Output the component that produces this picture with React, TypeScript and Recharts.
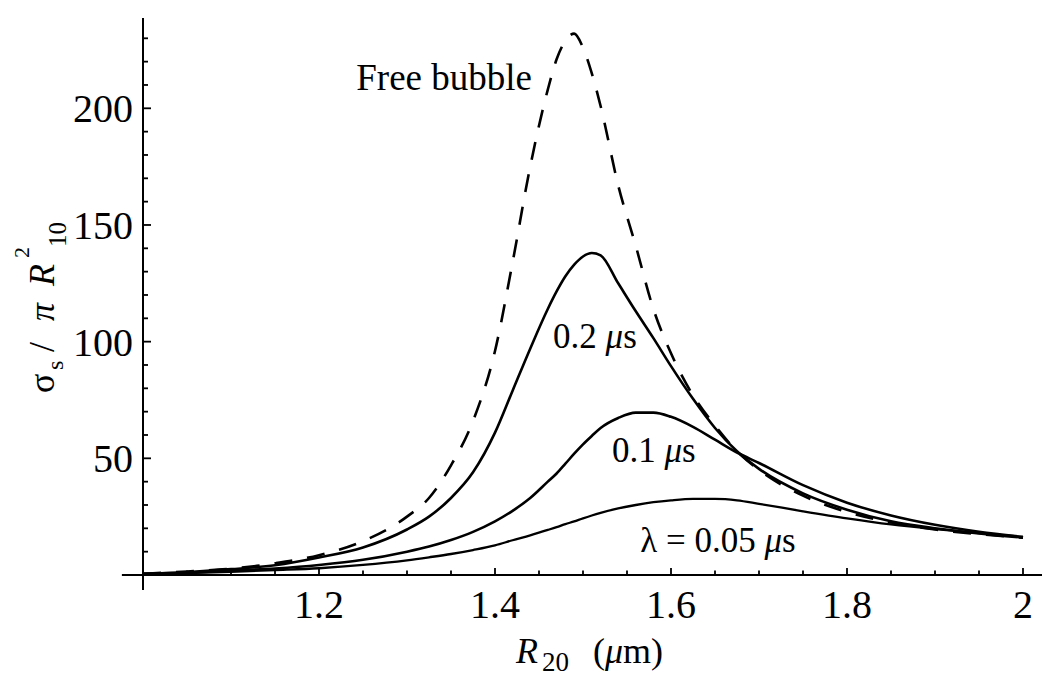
import React from 'react';
import { LineChart, Line, XAxis, YAxis, ReferenceLine, ReferenceDot } from 'recharts';

// R20 sample points (µm) and the scattering cross sections
const r20 = [1.0, 1.05, 1.1, 1.15, 1.2, 1.25, 1.3, 1.325, 1.35, 1.375, 1.4, 1.42, 1.44, 1.46, 1.47, 1.48, 1.49, 1.5, 1.51, 1.52, 1.54, 1.56, 1.58, 1.6, 1.625, 1.65, 1.675, 1.7, 1.75, 1.8, 1.85, 1.9, 1.95, 2.0];
const freeBubble = [0.5, 1.5, 2.7, 5, 8.5, 14.5, 25, 33, 47, 66, 96, 134, 175, 208, 221, 229, 232, 226, 215, 201, 167, 141, 114, 95, 77, 64, 53, 45, 34, 27, 22.5, 19.5, 17.5, 16];
const lambda02 = [0.5, 1.2, 2.5, 4.2, 7.5, 11.8, 19.5, 25, 33, 44, 61, 79, 97, 114, 121.5, 128, 133, 136.5, 138, 137, 125, 113, 101.5, 89.5, 75.5, 63, 53, 45.5, 35, 28, 23, 20, 17.8, 16];
const lambda01 = [0.5, 1.0, 1.8, 2.8, 4.3, 6.5, 10, 12.2, 15, 18.5, 23, 27.5, 33, 40, 43.5, 47.7, 52, 56, 59.6, 63, 67.3, 69.6, 69.6, 67.8, 63.5, 58, 52.5, 48, 38.5, 31, 25.5, 21.5, 18.5, 16.3];
const lambda005 = [0.3, 0.8, 1.4, 2.1, 2.9, 4.3, 6.3, 7.6, 9, 10.7, 12.7, 14.9, 17, 19.3, 20.5, 21.8, 23, 24.3, 25.5, 26.6, 28.5, 30, 31.2, 32, 32.6, 32.6, 32, 30.5, 27.3, 24.3, 21.7, 19.7, 18, 16.3];

const xTicks = [1.05, 1.1, 1.15, 1.2, 1.25, 1.3, 1.35, 1.4, 1.45, 1.5, 1.55, 1.6, 1.65, 1.7, 1.75, 1.8, 1.85, 1.9, 1.95, 2.0];
const xLabels = [1.2, 1.4, 1.6, 1.8, 2];
const yTicks = [10, 20, 30, 40, 50, 60, 70, 80, 90, 100, 110, 120, 130, 140, 150, 160, 170, 180, 190, 200, 210, 220, 230];
const yLabels = [50, 100, 150, 200];

const data = r20.map((r, i) => ({
  r,
  free: freeBubble[i],
  l02: lambda02[i],
  l01: lambda01[i],
  l005: lambda005[i],
}));

const FONT = '"Liberation Serif", "Times New Roman", serif';
const isMajor = (v: number, list: number[]) => list.some(m => Math.abs(m - v) < 1e-6);

const XTick = (props: any) => {
  const { x, y, payload } = props;
  const major = isMajor(payload.value, xLabels);
  return (
    <g>
      <line x1={x} x2={x} y1={y} y2={y - (major ? 7 : 4.5)} stroke="#000" strokeWidth={1.8} />
      {major && (
        <text x={x} y={y + 43} textAnchor="middle" fontFamily={FONT} fontSize={40} fill="#000">
          {String(Number(payload.value.toFixed(2)))}
        </text>
      )}
    </g>
  );
};

const YTick = (props: any) => {
  const { x, y, payload } = props;
  const major = isMajor(payload.value, yLabels);
  return (
    <g>
      <line x1={x} x2={x + (major ? 8 : 5)} y1={y} y2={y} stroke="#000" strokeWidth={1.8} />
      {major && (
        <text x={x - 10} y={y + 14} textAnchor="end" fontFamily={FONT} fontSize={40} fill="#000">
          {payload.value}
        </text>
      )}
    </g>
  );
};

const XTitle = () => (
  <text fontFamily={FONT} fontSize={36} fill="#000">
    <tspan x={508} y={655} fontStyle="italic">R</tspan>
    <tspan x={534} y={663} fontSize={27}>20</tspan>
    <tspan x={585} y={655}>(</tspan>
    <tspan fontStyle="italic">μ</tspan>
    <tspan>m)</tspan>
  </text>
);

const YTitle = () => (
  <text transform="rotate(-90 47 385)" fontFamily={FONT} fontSize={36} fill="#000">
    <tspan x={47} y={384}>σ</tspan>
    <tspan x={70} y={393} fontSize={24}>s</tspan>
    <tspan x={88} y={384}>/</tspan>
    <tspan x={119} y={384} fontStyle="italic">π</tspan>
    <tspan x={154} y={384} fontStyle="italic">R</tspan>
    <tspan x={182} y={359} fontSize={22}>2</tspan>
    <tspan x={193} y={396} fontSize={25}>10</tspan>
  </text>
);

type Part = [string, boolean];

const Note = (props: any) => {
  const vb = props.viewBox || {};
  const parts: Part[] = props.parts;
  return (
    <text x={vb.x} y={vb.y} textAnchor={props.anchor || 'start'} fontFamily={FONT} fontSize={props.size || 35} fill="#000">
      {parts.map(([t, it], i) => (
        <tspan key={i} fontStyle={it ? 'italic' : 'normal'}>{t}</tspan>
      ))}
    </text>
  );
};

export default function App() {
  return (
    <div style={{ width: 1034, height: 669, background: '#fff' }}>
      <LineChart width={1034} height={669} data={data} margin={{ top: 10, right: 19, bottom: 52, left: 55 }}>
        <XAxis
          dataKey="r"
          type="number"
          domain={[1, 2]}
          ticks={xTicks}
          interval={0}
          axisLine={false}
          tickLine={false}
          tickSize={0}
          tickMargin={0}
          tick={<XTick />}
          height={50}
          label={<XTitle />}
        />
        <YAxis
          type="number"
          domain={[0, 238.7]}
          ticks={yTicks}
          interval={0}
          axisLine={false}
          tickLine={false}
          tickSize={0}
          tickMargin={0}
          tick={<YTick />}
          width={80}
          label={<YTitle />}
        />
        <ReferenceLine segment={[{ x: 0.976, y: 0 }, { x: 2.023, y: 0 }]} stroke="#000" strokeWidth={2} ifOverflow="visible" />
        <ReferenceLine segment={[{ x: 1, y: -6.4 }, { x: 1, y: 238.7 }]} stroke="#000" strokeWidth={2} ifOverflow="visible" />
        <Line type="monotone" dataKey="free" stroke="#000" strokeWidth={2.6} strokeDasharray="18 15" dot={false} isAnimationActive={false} />
        <Line type="monotone" dataKey="l02" stroke="#000" strokeWidth={2.6} dot={false} isAnimationActive={false} />
        <Line type="monotone" dataKey="l01" stroke="#000" strokeWidth={2.6} dot={false} isAnimationActive={false} />
        <Line type="monotone" dataKey="l005" stroke="#000" strokeWidth={2.3} dot={false} isAnimationActive={false} />
        <ReferenceDot x={1.442} y={207.9} r={0} fill="none" stroke="none" label={<Note parts={[['Free bubble', false]]} anchor="end" size={37} />} />
        <ReferenceDot x={1.466} y={97.3} r={0} fill="none" stroke="none" label={<Note parts={[['0.2 ', false], ['μ', true], ['s', false]]} />} />
        <ReferenceDot x={1.533} y={48.4} r={0} fill="none" stroke="none" label={<Note parts={[['0.1 ', false], ['μ', true], ['s', false]]} />} />
        <ReferenceDot x={1.565} y={9.9} r={0} fill="none" stroke="none" label={<Note parts={[['λ = 0.05 ', false], ['μ', true], ['s', false]]} />} />
      </LineChart>
    </div>
  );
}
